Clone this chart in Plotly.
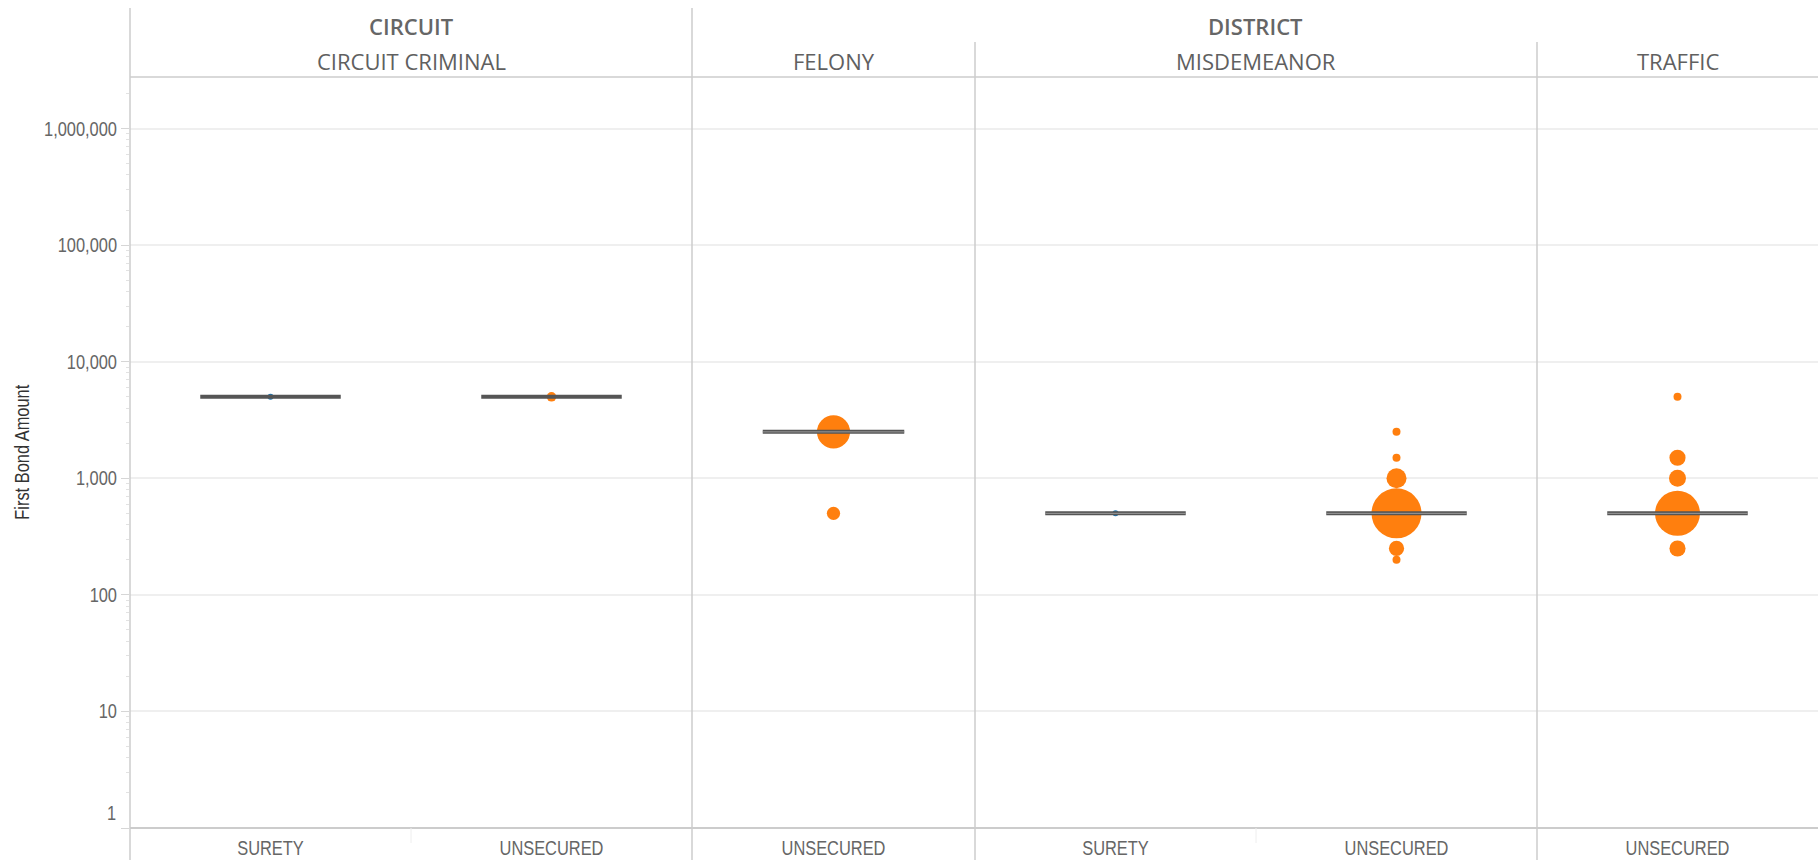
import plotly.graph_objects as go

# ---------------- DATA ----------------
groups = ["CIRCUIT", "DISTRICT"]
panels = ["CIRCUIT CRIMINAL", "FELONY", "MISDEMEANOR", "TRAFFIC"]
panel_group = ["CIRCUIT", "DISTRICT", "DISTRICT", "DISTRICT"]
panel_categories = [["SURETY", "UNSECURED"], ["UNSECURED"], ["SURETY", "UNSECURED"], ["UNSECURED"]]

# individual bond amounts (points) with how many cases share that amount
point_panel = ["CIRCUIT CRIMINAL", "CIRCUIT CRIMINAL",
               "FELONY", "FELONY",
               "MISDEMEANOR",
               "MISDEMEANOR", "MISDEMEANOR", "MISDEMEANOR", "MISDEMEANOR", "MISDEMEANOR", "MISDEMEANOR",
               "TRAFFIC", "TRAFFIC", "TRAFFIC", "TRAFFIC", "TRAFFIC"]
point_category = ["SURETY", "UNSECURED",
                  "UNSECURED", "UNSECURED",
                  "SURETY",
                  "UNSECURED", "UNSECURED", "UNSECURED", "UNSECURED", "UNSECURED", "UNSECURED",
                  "UNSECURED", "UNSECURED", "UNSECURED", "UNSECURED", "UNSECURED"]
point_amount = [5000, 5000,
                2500, 500,
                500,
                2500, 1500, 1000, 500, 250, 200,
                5000, 1500, 1000, 500, 250]
point_count = [1, 3,
               39, 6,
               1,
               2, 2, 14, 89, 8, 2,
               2, 9, 10, 72, 9]

# median first bond amount per panel / category
median_panel = ["CIRCUIT CRIMINAL", "CIRCUIT CRIMINAL", "FELONY", "MISDEMEANOR", "MISDEMEANOR", "TRAFFIC"]
median_category = ["SURETY", "UNSECURED", "UNSECURED", "SURETY", "UNSECURED", "UNSECURED"]
median_amount = [5000, 5000, 2500, 500, 500, 500]

y_tick_values = [1, 10, 100, 1000, 10000, 100000, 1000000]
y_tick_labels = ["", "10", "100", "1,000", "10,000", "100,000", "1,000,000"]

# ---------------- STYLE ----------------
colors = {"SURETY": "#1f77b4", "UNSECURED": "#ff7f0e"}
NARROW = "Liberation Sans, Arial, sans-serif"
HEAD = "Open Sans, Noto Sans, sans-serif"
W, H = 1818, 860
ML, MR, MT, MB = 130, 0, 77, 32
plot_w = W - ML - MR
plot_h = H - MT - MB

# panel pixel widths -> domains
panel_px = [562, 283, 562, 281]
domains = []
acc = 0
for p in panel_px:
    domains.append([acc / plot_w, min(1.0, (acc + p) / plot_w)])
    acc += p
domains[-1][1] = 1.0


def px_to_paper_y(py):
    return (H - MB - py) / plot_h


axis_names = ["x", "x2", "x3", "x4"]


def size_from_count(c):
    area = 36 + 28 * (c - 1)
    return area ** 0.5


fig = go.Figure()

# points
for i, pan in enumerate(panels):
    cats = panel_categories[i]
    for cat in cats:
        xs, ys, ss = [], [], []
        for p, c, a, n in zip(point_panel, point_category, point_amount, point_count):
            if p == pan and c == cat:
                xs.append(cats.index(cat))
                ys.append(a)
                ss.append(size_from_count(n))
        fig.add_trace(go.Scatter(
            x=xs, y=ys, mode="markers", xaxis=axis_names[i], yaxis="y",
            marker=dict(size=ss, color=colors[cat], line=dict(width=0), opacity=1),
            showlegend=False, hoverinfo="y"))

# median rules
for p, c, m in zip(median_panel, median_category, median_amount):
    i = panels.index(p)
    cats = panel_categories[i]
    k = cats.index(c)
    fig.add_trace(go.Scatter(
        x=[k - 0.25, k + 0.25], y=[m, m], mode="lines", xaxis=axis_names[i], yaxis="y",
        line=dict(color="#555555", width=4), showlegend=False, hoverinfo="skip"))
    if p != "CIRCUIT CRIMINAL":
        fig.add_trace(go.Scatter(
            x=[k - 0.25, k + 0.25], y=[m, m], mode="lines", xaxis=axis_names[i], yaxis="y",
            line=dict(color="#9a9a9a", width=1), showlegend=False, hoverinfo="skip"))

layout = dict(
    width=W, height=H,
    margin=dict(l=ML, r=MR, t=MT, b=MB, autoexpand=False),
    paper_bgcolor="white", plot_bgcolor="white",
    showlegend=False,
)

minor_vals = [k * 10 ** e for e in range(0, 7) for k in range(2, 10)]

layout["yaxis"] = dict(
    type="log", range=[0, 6.442], domain=[0, 1], anchor="x",
    tickmode="array", tickvals=y_tick_values, ticktext=y_tick_labels,
    ticks="outside", ticklen=8, tickcolor="#d6d6d6", tickwidth=1,
    showgrid=True, gridcolor="#efefef", gridwidth=1.5,
    showline=False, zeroline=False,
    tickfont=dict(family=NARROW, size=20, color="#666666"),
    minor=dict(tickmode="array", tickvals=minor_vals, ticks="outside", ticklen=3,
               tickcolor="#e2e2e2", tickwidth=1, showgrid=False),
    fixedrange=True,
)

for i, name in enumerate(axis_names):
    key = "xaxis" if i == 0 else "xaxis%d" % (i + 1)
    n = len(panel_categories[i])
    layout[key] = dict(
        domain=domains[i], anchor="y", range=[-0.5, n - 0.5],
        tickmode="array", tickvals=list(range(n)), ticktext=panel_categories[i],
        showgrid=False, zeroline=False, showline=False, ticks="",
        tickfont=dict(family=NARROW, size=20, color="#666666"),
        ticklabelstandoff=6,
        fixedrange=True,
    )

fig.update_layout(**layout)

# structure lines
line_col = "#cccccc"
y_top_full = px_to_paper_y(8)
y_top_sub = px_to_paper_y(42)
y_bot = px_to_paper_y(H)
shapes = []
shapes.append(dict(type="line", xref="paper", yref="paper", x0=0, x1=1, y0=1, y1=1,
                   line=dict(color=line_col, width=1.5)))
shapes.append(dict(type="line", xref="paper", yref="paper", x0=0, x1=1, y0=0, y1=0,
                   line=dict(color=line_col, width=2)))
for i in range(len(panels)):
    x = domains[i][0]
    if i == 0 or panel_group[i] != panel_group[i - 1]:
        y1 = y_top_full
    else:
        y1 = y_top_sub
    shapes.append(dict(type="line", xref="paper", yref="paper", x0=x, x1=x, y0=y_bot, y1=y1,
                       line=dict(color=line_col, width=1.5)))
for i in range(len(panels)):
    n = len(panel_categories[i])
    for k in range(n - 1):
        shapes.append(dict(type="line", xref=axis_names[i], yref="paper", x0=k + 0.5, x1=k + 0.5,
                           y0=0, y1=px_to_paper_y(H - MB + 15),
                           line=dict(color="#eeeeee", width=1)))
fig.update_layout(shapes=shapes)

annotations = []
for g in groups:
    idx = [i for i, pg in enumerate(panel_group) if pg == g]
    x0 = domains[idx[0]][0]
    x1 = domains[idx[-1]][1]
    annotations.append(dict(text=g, xref="paper", yref="paper", x=(x0 + x1) / 2, y=px_to_paper_y(26),
                            xanchor="center", yanchor="middle", showarrow=False,
                            font=dict(family=HEAD, size=22, color="#666666", weight=600)))
for i, pan in enumerate(panels):
    annotations.append(dict(text=pan, xref="paper", yref="paper", x=sum(domains[i]) / 2, y=px_to_paper_y(61),
                            xanchor="center", yanchor="middle", showarrow=False,
                            font=dict(family=HEAD, size=22, color="#606060", weight=400)))
# bottom "1" label, kept inside the plot like the original
annotations.append(dict(text="1", xref="paper", yref="y", x=0, y=0, xanchor="right", yanchor="bottom",
                        xshift=-11, yshift=2, showarrow=False,
                        font=dict(family=NARROW, size=20, color="#666666")))
annotations.append(dict(text="First Bond Amount", xref="paper", yref="paper", x=(21 - ML) / plot_w, y=0.5,
                        xanchor="center", yanchor="middle", textangle=-90, showarrow=False,
                        font=dict(family=NARROW, size=20, color="#333333")))
fig.update_layout(annotations=annotations)

# condense the Arial-metric labels to Arial-Narrow proportions (text stays real text)
post = """
document.body.style.margin='0';document.body.style.overflow='hidden';
var gd=document.getElementById('{plot_id}');
function condense(){
  var nodes=gd.querySelectorAll('g.xtick text, g.x2tick text, g.x3tick text, g.x4tick text, g.ytick text, .annotation-text');
  nodes.forEach(function(t){
    var fam=(t.style.fontFamily||'');
    if(fam.indexOf('Liberation Sans')<0) return;
    if(t.getAttribute('data-cond')) return;
    var w=t.getComputedTextLength();
    if(w>0){t.setAttribute('textLength',(w*0.82).toFixed(2));t.setAttribute('lengthAdjust','spacingAndGlyphs');t.setAttribute('data-cond','1');}
  });
}
condense();
"""
fig.write_html("out.html", config={"displayModeBar": False}, post_script=post)
